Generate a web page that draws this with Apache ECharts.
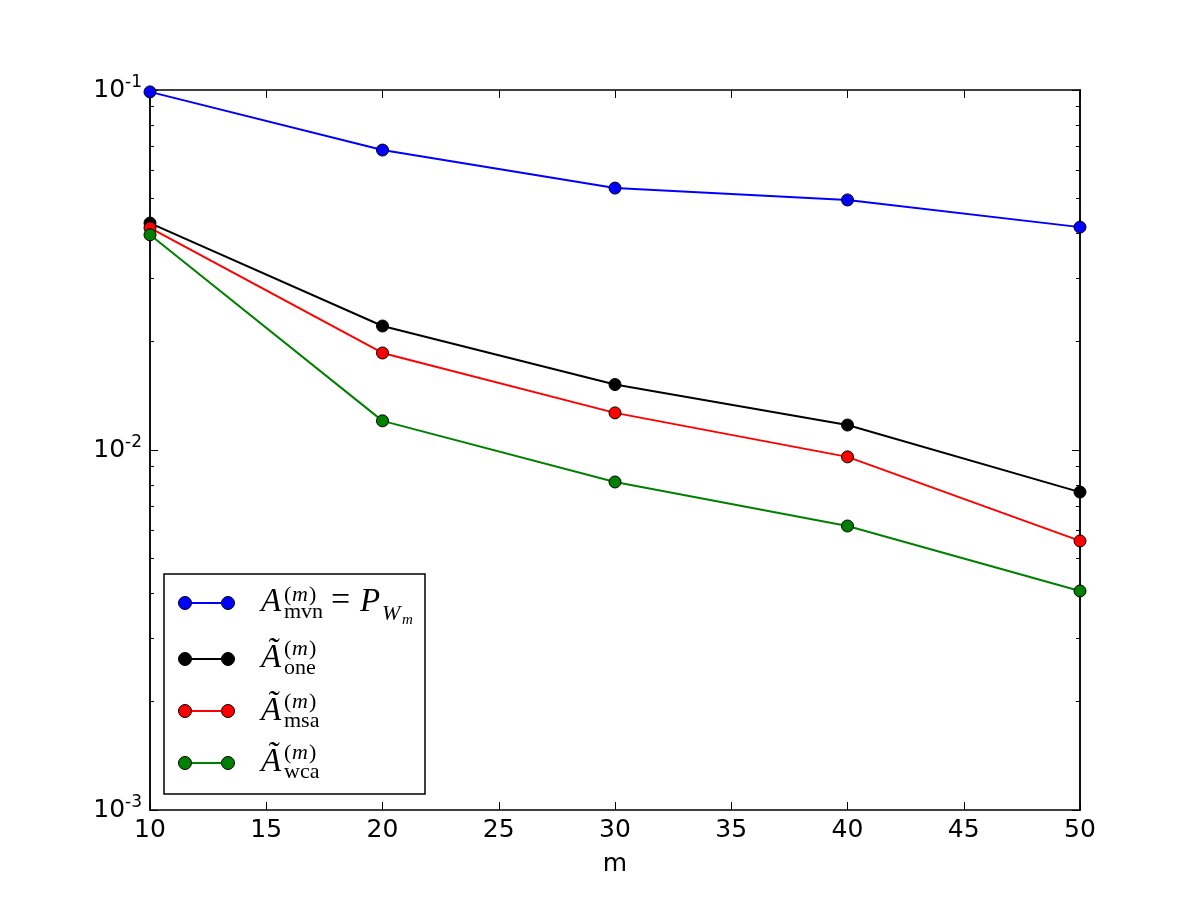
<!DOCTYPE html>
<html>
<head>
<meta charset="utf-8">
<script src="https://cdn.jsdelivr.net/npm/echarts@6/dist/echarts.min.js"></script>
<style>html,body{margin:0;padding:0;background:#fff;}#c{width:1200px;height:900px;}</style>
</head>
<body>
<div id="c"></div>
<script>
var mValues = [10, 20, 30, 40, 50];
var mvnValues = [0.0988, 0.0681, 0.0534, 0.0495, 0.0416];
var oneValues = [0.0427, 0.0221, 0.0152, 0.01173, 0.00764];
var msaValues = [0.0414, 0.0186, 0.01268, 0.00957, 0.00559];
var wcaValues = [0.0396, 0.01205, 0.00815, 0.00615, 0.00406];
var seriesColors = ['#0000ff', '#000000', '#ff0000', '#008000'];
var legendMain = ['A', 'Ã', 'Ã', 'Ã'];
var legendSub = ['mvn', 'one', 'msa', 'wca'];
var yMajorTicks = [0.001, 0.01, 0.1];
var yMinorTicks = [0.002,0.003,0.004,0.005,0.006,0.007,0.008,0.009,0.02,0.03,0.04,0.05,0.06,0.07,0.08,0.09];

var chart = echarts.init(document.getElementById('c'), null, {renderer: 'canvas'});

function pairs(vals) { return mValues.map(function (m, i) { return [m, vals[i]]; }); }
var allVals = [mvnValues, oneValues, msaValues, wcaValues];

var series = allVals.map(function (vals, i) {
  return {
    type: 'line',
    data: pairs(vals),
    xAxisIndex: 0,
    yAxisIndex: 0,
    clip: true,
    symbol: 'circle',
    symbolSize: 12,
    lineStyle: {color: seriesColors[i], width: 2},
    itemStyle: {color: seriesColors[i], borderColor: '#000', borderWidth: 1},
    emphasis: {disabled: true},
    z: 3 + i
  };
});

var supFmt = function (v) {
  var e = Math.round(Math.log10(v));
  return '{b|10}{s|' + e + '}';
};

function yAxisDef(pos, tickVals, len, labels) {
  return {
    type: 'log', logBase: 10, min: 0.001, max: 0.1, position: pos,
    axisLine: {show: true, onZero: false, lineStyle: {color: '#000', width: 1.5}},
    axisTick: {show: true, inside: true, length: len, customValues: tickVals, lineStyle: {color: '#000', width: 1}},
    axisLabel: labels ? {
      show: true, customValues: yMajorTicks, formatter: supFmt, margin: 8,
      rich: {
        b: {fontFamily: 'DejaVu Sans', fontSize: 25, color: '#000'},
        s: {fontFamily: 'DejaVu Sans', fontSize: 17, color: '#000', padding: [0, 0, 14, 0]}
      }
    } : {show: false},
    splitLine: {show: false},
    minorTick: {show: false}
  };
}

var option = {
  backgroundColor: '#fff',
  animation: false,
  grid: {left: 150, right: 120, top: 90, bottom: 90, containLabel: false},
  xAxis: [
    {
      type: 'value', min: 10, max: 50, interval: 5, position: 'bottom',
      name: 'm', nameLocation: 'middle', nameGap: 42,
      nameTextStyle: {fontFamily: 'DejaVu Sans', fontSize: 25, color: '#000'},
      axisLine: {show: true, onZero: false, lineStyle: {color: '#000', width: 1.5}},
      axisTick: {show: true, inside: true, length: 8, lineStyle: {color: '#000', width: 1}},
      axisLabel: {fontFamily: 'DejaVu Sans', fontSize: 25, color: '#000', margin: 8},
      splitLine: {show: false}
    },
    {
      type: 'value', min: 10, max: 50, interval: 5, position: 'top',
      axisLine: {show: true, onZero: false, lineStyle: {color: '#000', width: 1.5}},
      axisTick: {show: true, inside: true, length: 8, lineStyle: {color: '#000', width: 1}},
      axisLabel: {show: false},
      splitLine: {show: false}
    }
  ],
  yAxis: [
    yAxisDef('left', yMajorTicks, 8, true),
    yAxisDef('left', yMinorTicks, 4, false),
    yAxisDef('right', yMajorTicks, 8, false),
    yAxisDef('right', yMinorTicks, 4, false)
  ],
  series: series
};
chart.setOption(option);

// Legend drawn as graphic elements
var serif = 'Liberation Serif';
function txt(str, x, baseline, fs, italic) {
  return {
    type: 'text', x: x, y: baseline - 0.3375 * fs, z: 102,
    style: {text: str, font: (italic ? 'italic ' : '') + fs + 'px "' + serif + '"', fill: '#000', verticalAlign: 'middle', align: 'left'}
  };
}
var legendX = 164, legendY = 574, legendW = 261, legendH = 220;
var rowY = [603, 659, 711, 763];
var baseY = [613, 669, 722, 773];
var supOff = [10, 12, 12, 12];
var g = [{
  type: 'rect', shape: {x: legendX, y: legendY, width: legendW, height: legendH},
  style: {fill: '#fff', stroke: '#000', lineWidth: 1.5}, z: 100
}];
for (var i = 0; i < 4; i++) {
  var c = seriesColors[i], y = rowY[i], B = baseY[i];
  g.push({type: 'line', shape: {x1: 185, y1: y, x2: 228, y2: y}, style: {stroke: c, lineWidth: 2}, z: 101});
  g.push({type: 'circle', shape: {cx: 185, cy: y, r: 6.5}, style: {fill: c, stroke: '#000', lineWidth: 1}, z: 102});
  g.push({type: 'circle', shape: {cx: 228, cy: y, r: 6.5}, style: {fill: c, stroke: '#000', lineWidth: 1}, z: 102});
  g.push(txt(legendMain[i], 261, B, 33, true));
  g.push(txt('(', 284, B - supOff[i], 22, false));
  g.push(txt('m', 292, B - supOff[i], 22, true));
  g.push(txt(')', 309, B - supOff[i], 22, false));
  g.push(txt(legendSub[i], 284, B + 7, 22, false));
}
g.push(txt('=', 331, baseY[0], 34, false));
g.push(txt('P', 360, baseY[0], 33, true));
g.push(txt('W', 382, baseY[0] + 9, 22, true));
g.push(txt('m', 402, baseY[0] + 12, 15, true));
chart.setOption({graphic: {elements: g}});
</script>
</body>
</html>
